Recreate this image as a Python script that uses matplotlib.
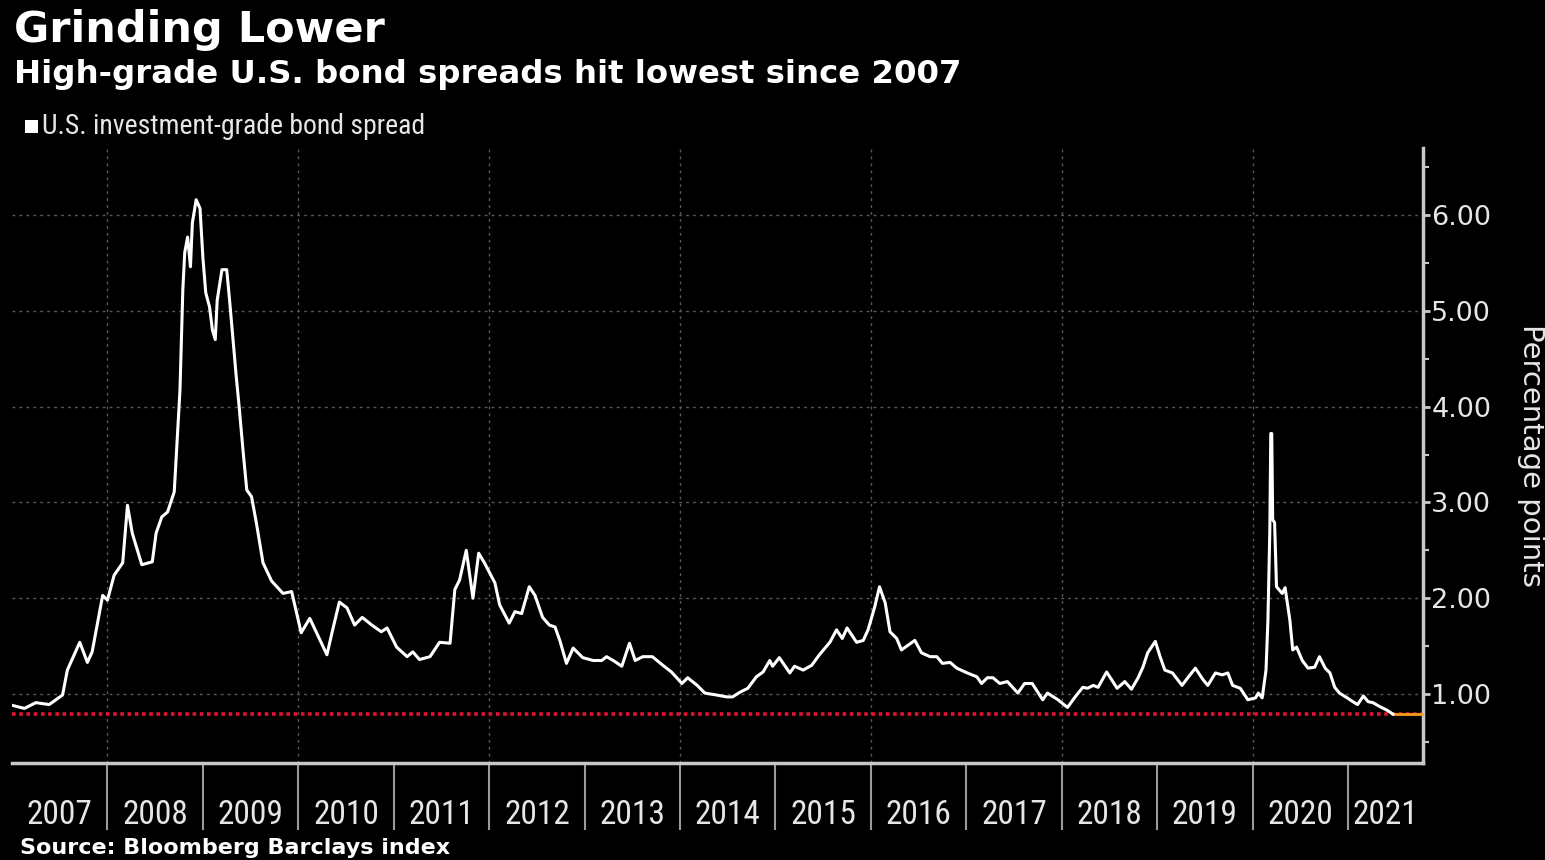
import matplotlib
matplotlib.use("Agg")
import matplotlib.pyplot as plt
from matplotlib import font_manager as fm
from matplotlib.ticker import FixedLocator, FixedFormatter, NullFormatter

# ---- text -------------------------------------------------------------
title = "Grinding Lower"
subtitle = "High-grade U.S. bond spreads hit lowest since 2007"
series_label = "U.S. investment-grade bond spread"
source = "Source: Bloomberg Barclays index"
y_label = "Percentage points"

# ---- data (decimal year, spread in percentage points) -----------------
dates = [
    2007.01, 2007.13, 2007.25, 2007.39, 2007.53, 2007.58, 2007.66, 2007.71,
    2007.79, 2007.84, 2007.95, 2008.00, 2008.07, 2008.16, 2008.21, 2008.26,
    2008.36, 2008.47, 2008.51, 2008.57, 2008.63, 2008.70, 2008.72, 2008.76,
    2008.79, 2008.81, 2008.84, 2008.87, 2008.89, 2008.93, 2008.97, 2009.00,
    2009.03, 2009.07, 2009.10, 2009.13, 2009.15, 2009.20, 2009.25, 2009.28,
    2009.31, 2009.35, 2009.38, 2009.42, 2009.46, 2009.51, 2009.56, 2009.63,
    2009.72, 2009.84, 2009.93, 2010.03, 2010.12, 2010.30, 2010.36, 2010.43,
    2010.51, 2010.59, 2010.67, 2010.77, 2010.87, 2010.93, 2011.03, 2011.14,
    2011.20, 2011.27, 2011.38, 2011.48, 2011.59, 2011.64, 2011.69, 2011.76,
    2011.83, 2011.89, 2011.95, 2012.06, 2012.11, 2012.21, 2012.27, 2012.34,
    2012.42, 2012.48, 2012.56, 2012.63, 2012.69, 2012.74, 2012.81, 2012.88,
    2012.98, 2013.09, 2013.18, 2013.23, 2013.30, 2013.39, 2013.47, 2013.53,
    2013.61, 2013.71, 2013.82, 2013.91, 2014.02, 2014.08, 2014.18, 2014.26,
    2014.38, 2014.49, 2014.55, 2014.63, 2014.71, 2014.80, 2014.87, 2014.94,
    2014.97, 2015.04, 2015.15, 2015.20, 2015.29, 2015.38, 2015.46, 2015.57,
    2015.64, 2015.70, 2015.75, 2015.85, 2015.92, 2015.97, 2016.04, 2016.09,
    2016.15, 2016.20, 2016.27, 2016.32, 2016.39, 2016.46, 2016.53, 2016.62,
    2016.69, 2016.75, 2016.83, 2016.90, 2017.01, 2017.11, 2017.16, 2017.22,
    2017.28, 2017.35, 2017.43, 2017.54, 2017.61, 2017.69, 2017.80, 2017.85,
    2017.96, 2018.06, 2018.14, 2018.22, 2018.27, 2018.33, 2018.38, 2018.47,
    2018.58, 2018.66, 2018.73, 2018.80, 2018.85, 2018.90, 2018.98, 2019.03,
    2019.08, 2019.16, 2019.26, 2019.32, 2019.40, 2019.48, 2019.53, 2019.61,
    2019.68, 2019.74, 2019.79, 2019.87, 2019.95, 2020.03, 2020.06, 2020.10,
    2020.14, 2020.16, 2020.18, 2020.19, 2020.20, 2020.21, 2020.23, 2020.25,
    2020.31, 2020.34, 2020.39, 2020.42, 2020.46, 2020.52, 2020.58, 2020.65,
    2020.70, 2020.76, 2020.81, 2020.86, 2020.91, 2020.99, 2021.05, 2021.10,
    2021.16, 2021.21, 2021.26, 2021.33, 2021.41, 2021.47,
]
spread = [
    0.88, 0.85, 0.91, 0.89, 0.99, 1.25, 1.43, 1.54,
    1.33, 1.44, 2.03, 1.98, 2.24, 2.37, 2.97, 2.68,
    2.35, 2.38, 2.68, 2.85, 2.90, 3.11, 3.47, 4.17,
    5.22, 5.61, 5.77, 5.46, 5.92, 6.16, 6.07, 5.56,
    5.19, 5.04, 4.80, 4.70, 5.11, 5.43, 5.43, 5.11,
    4.77, 4.31, 4.00, 3.55, 3.13, 3.06, 2.79, 2.37,
    2.18, 2.05, 2.07, 1.64, 1.79, 1.41, 1.67, 1.96,
    1.90, 1.72, 1.80, 1.72, 1.65, 1.69, 1.49, 1.39,
    1.44, 1.36, 1.39, 1.54, 1.53, 2.09, 2.19, 2.50,
    2.00, 2.47, 2.37, 2.16, 1.93, 1.74, 1.86, 1.84,
    2.12, 2.03, 1.80, 1.72, 1.70, 1.56, 1.32, 1.48,
    1.38, 1.35, 1.35, 1.39, 1.35, 1.29, 1.53, 1.35,
    1.39, 1.39, 1.30, 1.23, 1.11, 1.17, 1.09, 1.01,
    0.99, 0.97, 0.97, 1.02, 1.06, 1.18, 1.23, 1.35,
    1.29, 1.38, 1.22, 1.29, 1.25, 1.30, 1.41, 1.54,
    1.67, 1.58, 1.69, 1.54, 1.56, 1.67, 1.91, 2.12,
    1.95, 1.65, 1.58, 1.46, 1.51, 1.56, 1.43, 1.39,
    1.39, 1.32, 1.33, 1.27, 1.22, 1.18, 1.11, 1.17,
    1.17, 1.11, 1.13, 1.01, 1.11, 1.11, 0.94, 1.01,
    0.94, 0.86, 0.97, 1.07, 1.06, 1.09, 1.07, 1.23,
    1.06, 1.13, 1.05, 1.17, 1.28, 1.43, 1.55, 1.39,
    1.25, 1.22, 1.09, 1.17, 1.27, 1.15, 1.09, 1.22,
    1.20, 1.22, 1.09, 1.06, 0.94, 0.96, 1.01, 0.96,
    1.25, 1.77, 2.71, 3.72, 3.72, 2.82, 2.79, 2.12,
    2.05, 2.11, 1.77, 1.46, 1.49, 1.35, 1.27, 1.28,
    1.39, 1.27, 1.22, 1.07, 1.01, 0.96, 0.92, 0.89,
    0.98, 0.92, 0.91, 0.87, 0.83, 0.79,
]
years = list(range(2007, 2022))
y_ticks = [1.0, 2.0, 3.0, 4.0, 5.0, 6.0]
y_minor = [0.5, 1.5, 2.5, 3.5, 4.5, 5.5, 6.5]
current_level = 0.79

# ---- fonts ------------------------------------------------------------
SANS = "DejaVu Sans"


def condensed_font():
    """Return FontProperties for a narrow sans face if one is installed."""
    ttf = fm.fontManager.ttflist
    names = {f.name for f in ttf}
    for fam in ("Liberation Sans Narrow", "Arial Narrow", "Roboto Condensed",
                "Open Sans Condensed", "DejaVu Sans Condensed",
                "Noto Sans Condensed"):
        if fam in names:
            return fm.FontProperties(family=fam)
    for f in ttf:
        stretch = str(f.stretch).lower()
        if ("condensed" in stretch or "narrow" in f.name.lower()
                or "condensed" in f.name.lower()) \
                and f.style == "normal" and f.weight in (400, "normal", "regular"):
            if "extra" in stretch or "ultra" in stretch:
                continue
            return fm.FontProperties(fname=f.fname)
    return None


narrow = condensed_font()
if narrow is None:
    narrow = fm.FontProperties(family="Liberation Sans")
    year_size, legend_size = 22, 17.5
else:
    year_size, legend_size = 24, 20

# ---- colours ----------------------------------------------------------
BG = "black"
FG = "white"
AXIS = "#c8c8c8"
GRID = "#5a5a5a"
DIVIDER = "#9a9a9a"
RED = "#e3122d"
ORANGE = "#f59a1b"

x_min, x_max = 2007.0, 2021.785
y_min, y_max = 0.28, 6.70

fig = plt.figure(figsize=(15.45, 8.60), dpi=100, facecolor=BG)
ax = fig.add_axes([12 / 1545, 1 - 763 / 860, (1423 - 12) / 1545, (763 - 148) / 860])
ax.set_facecolor(BG)
ax.set_xlim(x_min, x_max)
ax.set_ylim(y_min, y_max)

# grid: dotted horizontals at each labelled value, verticals every other year
for v in y_ticks:
    ax.axhline(v, color=GRID, lw=1.0, ls=(0, (2, 3)), zorder=1)
for yr in years[1:-1:2]:
    ax.axvline(yr, color=GRID, lw=1.0, ls=(0, (2, 3)), zorder=1)

# current-level reference line and last-value marker
ax.axhline(current_level, color=RED, lw=2.6, ls=(0, (1.0, 1.0)), zorder=2)
ax.plot([dates[-1], x_max], [current_level, current_level], color=ORANGE,
        lw=2.0, solid_capstyle="butt", zorder=3, clip_on=False)

# the spread series
ax.plot(dates, spread, color=FG, lw=2.2, zorder=4, solid_joinstyle="round")

# spines
for side in ("left", "top"):
    ax.spines[side].set_visible(False)
for side in ("bottom", "right"):
    ax.spines[side].set_color(AXIS)
    ax.spines[side].set_linewidth(2.5)

# y axis on the right
ax.yaxis.tick_right()
ax.yaxis.set_major_locator(FixedLocator(y_ticks))
ax.yaxis.set_major_formatter(FixedFormatter([f"{v:.2f}" for v in y_ticks]))
ax.yaxis.set_minor_locator(FixedLocator(y_minor))
ax.tick_params(axis="y", which="major", direction="out", length=5, width=2,
               color=AXIS, pad=1, labelsize=19.5, labelcolor="#e6e6e6")
ax.tick_params(axis="y", which="minor", direction="out", length=4, width=1.5,
               color=AXIS)
for lbl in ax.get_yticklabels():
    lbl.set_family(SANS)

# x axis: long dividers at each year start, year names centred between them
ax.xaxis.set_major_locator(FixedLocator(years[1:]))
ax.xaxis.set_major_formatter(NullFormatter())
label_pos = [y + 0.5 for y in years[:-1]] + [(years[-1] + x_max) / 2]
ax.xaxis.set_minor_locator(FixedLocator(label_pos))
ax.xaxis.set_minor_formatter(FixedFormatter([str(y) for y in years]))
ax.tick_params(axis="x", which="major", direction="out", length=48, width=1.5,
               color=DIVIDER)
ax.tick_params(axis="x", which="minor", length=0, pad=26, labelcolor="#e6e6e6")
for lbl in ax.get_xminorticklabels():
    lbl.set_fontproperties(narrow)
    lbl.set_fontsize(year_size)

# titles, legend and source
fig.text(14 / 1545, 1 - 30 / 860, title, color=FG, fontsize=31, fontweight="bold",
         family=SANS, ha="left", va="center")
fig.text(14 / 1545, 1 - 75 / 860, subtitle, color=FG, fontsize=23.3,
         fontweight="bold", family=SANS, ha="left", va="center")
fig.patches.append(plt.Rectangle((25 / 1545, 1 - 133 / 860), 13 / 1545, 13 / 860,
                                 transform=fig.transFigure, facecolor=FG,
                                 edgecolor="none"))
legend_text = fig.text(42 / 1545, 1 - 126 / 860, series_label, color="#e6e6e6",
                       ha="left", va="center", fontproperties=narrow)
legend_text.set_fontsize(legend_size)
fig.text(1531 / 1545, 1 - 456 / 860, y_label, color="#e6e6e6", fontsize=21,
         family=SANS, rotation=270, ha="center", va="center")
fig.text(20 / 1545, 1 - 848 / 860, source, color=FG, fontsize=16,
         fontweight="bold", family=SANS, ha="left", va="center")

fig.savefig("out.png", dpi=100, facecolor=BG)
